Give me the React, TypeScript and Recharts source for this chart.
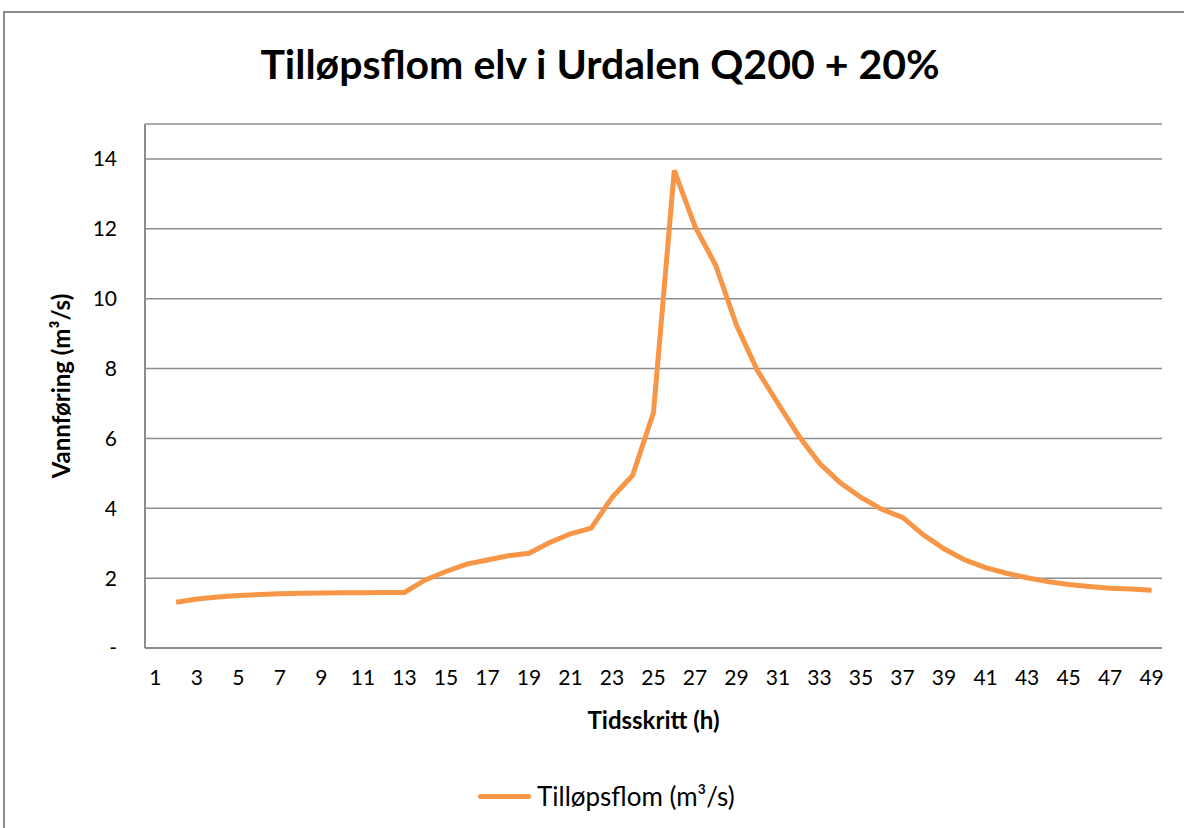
import React from 'react';
import { LineChart, Line, XAxis, YAxis, CartesianGrid, Label } from 'recharts';

// tidsskritt 1..49, første steg har ingen verdi
const steps = Array.from({ length: 49 }, (_, i) => String(i + 1));
const flow: (number | null)[] = [
  null, 1.31, 1.4, 1.46, 1.5, 1.53, 1.55, 1.565, 1.575, 1.58,
  1.585, 1.59, 1.59, 1.95, 2.19, 2.4, 2.52, 2.64, 2.71, 3.02,
  3.27, 3.43, 4.31, 4.95, 6.74, 13.67, 12.07, 10.95, 9.24, 7.95,
  7.0, 6.07, 5.29, 4.73, 4.31, 3.97, 3.74, 3.24, 2.84, 2.52,
  2.3, 2.14, 2.01, 1.9, 1.82, 1.76, 1.71, 1.69, 1.65,
];
const yTicks = [0, 2, 4, 6, 8, 10, 12, 14];

const title = 'Tilløpsflom elv i Urdalen Q200 + 20%';
const seriesName = 'Tilløpsflom (m³/s)';

const chartData = steps.map((t, i) => ({ t, q: flow[i] }));

const FONT = 'Lato, "Open Sans", sans-serif';
const ORANGE = '#F79646';
const GRID = '#8c8c8c';

if (typeof document !== 'undefined') {
  document.body.style.margin = '0';
}

const App: React.FC = () => {
  return (
    <div style={{ position: 'relative', width: 1184, height: 828, background: '#fff', fontFamily: FONT }}>
      {/* ytre ramme, kun venstre og topp synlig */}
      <div style={{ position: 'absolute', left: 3, top: 11, width: 2, height: 817, background: GRID }} />
      <div style={{ position: 'absolute', left: 3, top: 11, width: 1181, height: 2, background: GRID }} />
      <div style={{ position: 'absolute', left: 32, top: 39, width: 1136, textAlign: 'center', fontSize: 41, fontWeight: 700, color: '#000', whiteSpace: 'nowrap' }}>
        {title}
      </div>
      <div style={{ position: 'absolute', left: 0, top: 0 }}>
        <LineChart width={1184} height={828} data={chartData} margin={{ top: 124, right: 22, bottom: 140, left: 85 }}>
          <CartesianGrid vertical={false} stroke={GRID} strokeWidth={1.5} />
          <XAxis
            dataKey="t"
            interval={1}
            padding={{ left: 10.4, right: 10.4 }}
            height={40}
            tickSize={0}
            tickMargin={22}
            axisLine={{ stroke: GRID, strokeWidth: 2 }}
            tick={{ fill: '#000', fontSize: 21, fontFamily: FONT }}
          >
            <Label value="Tidsskritt (h)" position="bottom" offset={24} style={{ fill: '#000', fontSize: 24, fontWeight: 700, fontFamily: FONT }} />
          </XAxis>
          <YAxis
            domain={[0, 15]}
            ticks={yTicks}
            width={60}
            tickSize={0}
            tickMargin={28}
            axisLine={{ stroke: GRID, strokeWidth: 2 }}
            tickFormatter={(v: number) => (v === 0 ? '-' : String(v))}
            tick={{ fill: '#000', fontSize: 21, fontFamily: FONT }}
          >
            <Label
              value="Vannføring (m³/s)"
              angle={-90}
              position="insideLeft"
              offset={-24}
              style={{ textAnchor: 'middle', fill: '#000', fontSize: 24, fontWeight: 700, fontFamily: FONT }}
            />
          </YAxis>
          <Line
            dataKey="q"
            name={seriesName}
            stroke={ORANGE}
            strokeWidth={5}
            dot={false}
            isAnimationActive={false}
          />
        </LineChart>
      </div>
      <div style={{ position: 'absolute', left: 478, top: 780, display: 'flex', alignItems: 'center', fontSize: 26, color: '#000' }}>
        <span style={{ display: 'inline-block', width: 53, height: 5, borderRadius: 3, background: ORANGE, marginRight: 6 }} />
        {seriesName}
      </div>
    </div>
  );
};

export default App;
